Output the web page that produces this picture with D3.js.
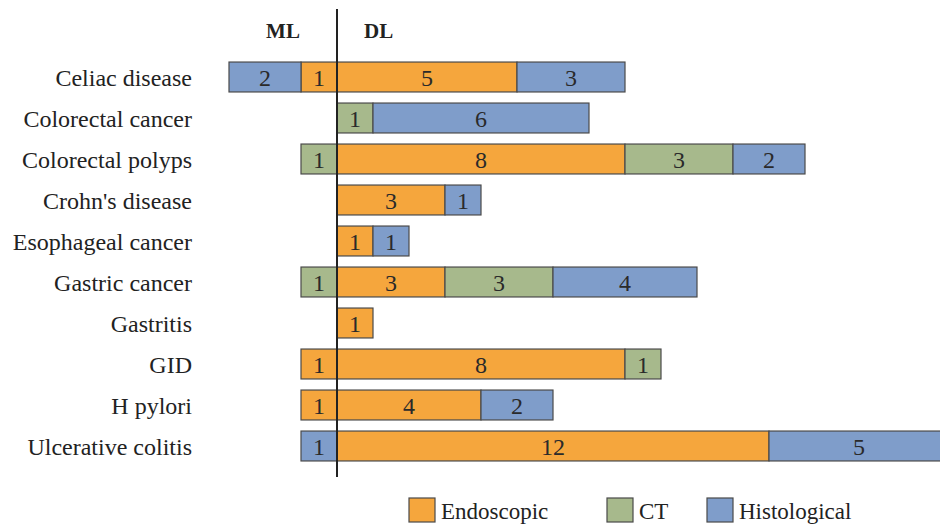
<!DOCTYPE html>
<html>
<head>
<meta charset="utf-8">
<script src="https://cdn.jsdelivr.net/npm/d3@7"></script>
<style>
  body { margin: 0; background: #fff; }
  text { font-family: "Liberation Serif", serif; }
</style>
</head>
<body>
<div id="chart"></div>
<script>
// Categories (top to bottom)
const categories = ["Celiac disease", "Colorectal cancer", "Colorectal polyps", "Crohn's disease",
  "Esophageal cancer", "Gastric cancer", "Gastritis", "GID", "H pylori", "Ulcerative colitis"];

// ML counts (drawn to the left of the divider)
const mlEndoscopic = [1, 0, 0, 0, 0, 0, 0, 1, 1, 0];
const mlCT = [0, 0, 1, 0, 0, 1, 0, 0, 0, 0];
const mlHistological = [2, 0, 0, 0, 0, 0, 0, 0, 0, 1];

// DL counts (drawn to the right of the divider)
const dlEndoscopic = [5, 0, 8, 3, 1, 3, 1, 8, 4, 12];
const dlCT = [0, 1, 3, 0, 0, 3, 0, 1, 0, 0];
const dlHistological = [3, 6, 2, 1, 1, 4, 0, 0, 2, 5];

const seriesKeys = ["Endoscopic", "CT", "Histological"];
const colors = { Endoscopic: "#f5a63d", CT: "#a7b98c", Histological: "#7f9dca" };

// Build rows for stacking
const mlRows = categories.map((c, i) => ({ cat: c, Endoscopic: mlEndoscopic[i], CT: mlCT[i], Histological: mlHistological[i] }));
const dlRows = categories.map((c, i) => ({ cat: c, Endoscopic: dlEndoscopic[i], CT: dlCT[i], Histological: dlHistological[i] }));

const width = 940, height = 524;

const svg = d3.select("#chart").append("svg")
  .attr("width", width)
  .attr("height", height);

// Scales
const x = d3.scaleLinear().domain([-3, 17]).range([229, 949]);
const y = d3.scaleBand()
  .domain(categories)
  .range([56.5, 466.5])
  .paddingInner(0.27)
  .paddingOuter(0.135);

const stack = d3.stack().keys(seriesKeys);

// Draw one side: sign = -1 for ML (left), +1 for DL (right)
function drawSide(rows, sign) {
  const layers = stack(rows);
  layers.forEach(layer => {
    const g = svg.append("g");
    layer.forEach(d => {
      const v = d[1] - d[0];
      if (v <= 0) return;
      const x0 = x(sign * d[0]), x1 = x(sign * d[1]);
      const left = Math.min(x0, x1), w = Math.abs(x1 - x0);
      g.append("rect")
        .attr("x", left)
        .attr("y", y(d.data.cat))
        .attr("width", w)
        .attr("height", y.bandwidth())
        .attr("fill", colors[layer.key])
        .attr("stroke", "#4a4a4a")
        .attr("stroke-width", 1.2);
      g.append("text")
        .attr("x", left + w / 2)
        .attr("y", y(d.data.cat) + y.bandwidth() / 2)
        .attr("dy", "0.36em")
        .attr("text-anchor", "middle")
        .attr("font-size", 24)
        .attr("fill", "#2a2a2a")
        .text(v);
    });
  });
}

drawSide(mlRows, -1);
drawSide(dlRows, 1);

// Category labels
svg.append("g").selectAll("text")
  .data(categories)
  .join("text")
  .attr("x", 192)
  .attr("y", d => y(d) + y.bandwidth() / 2)
  .attr("dy", "0.36em")
  .attr("text-anchor", "end")
  .attr("font-size", 24)
  .attr("fill", "#222")
  .text(d => d);

// Divider line
svg.append("line")
  .attr("x1", x(0)).attr("x2", x(0))
  .attr("y1", 9).attr("y2", 477)
  .attr("stroke", "#222")
  .attr("stroke-width", 2);

// Side headers
svg.append("text")
  .attr("x", 283).attr("y", 38)
  .attr("text-anchor", "middle")
  .attr("font-size", 21)
  .attr("font-weight", "bold")
  .attr("fill", "#222")
  .text("ML");

svg.append("text")
  .attr("x", 364).attr("y", 38)
  .attr("font-size", 21)
  .attr("font-weight", "bold")
  .attr("fill", "#222")
  .text("DL");

// Legend
const legendX = [409, 607, 707];
const legend = svg.append("g");
seriesKeys.forEach((k, i) => {
  legend.append("rect")
    .attr("x", legendX[i]).attr("y", 498)
    .attr("width", 26).attr("height", 24)
    .attr("fill", colors[k])
    .attr("stroke", "#4a4a4a")
    .attr("stroke-width", 1.2);
  legend.append("text")
    .attr("x", legendX[i] + 32).attr("y", 519)
    .attr("font-size", 23)
    .attr("fill", "#222")
    .text(k);
});
</script>
</body>
</html>
